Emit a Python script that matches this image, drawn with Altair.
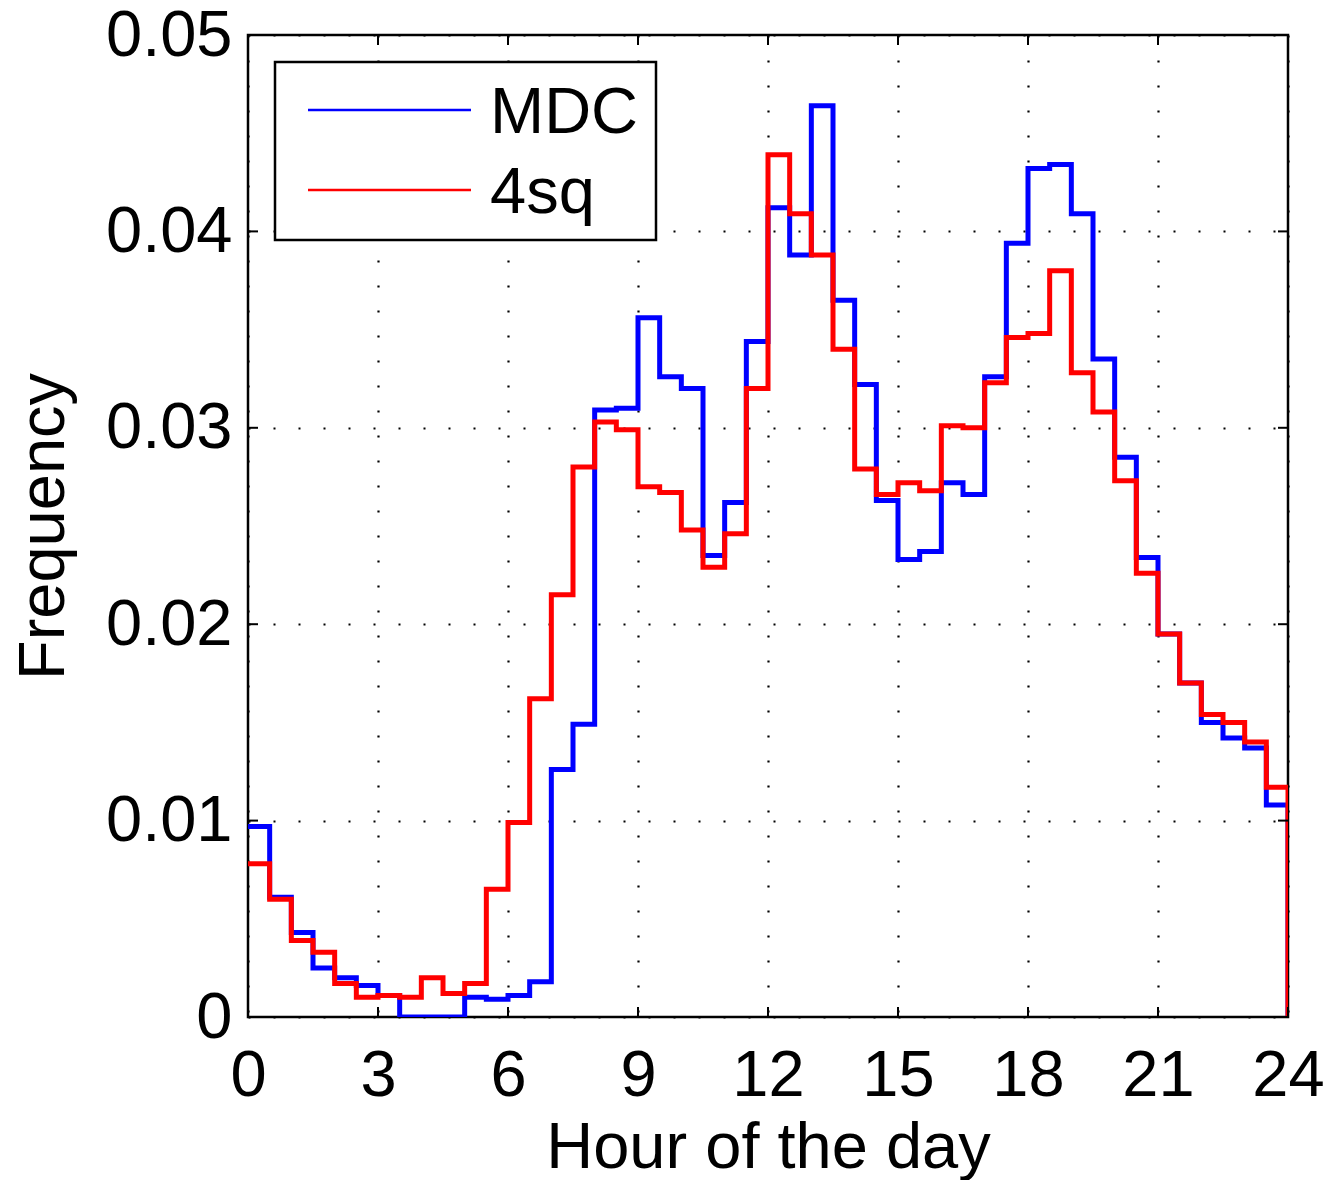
import altair as alt
import pandas as pd

# ---- data ----
SERIES = ["MDC", "4sq"]
COLORS = ["#0000ff", "#ff0000"]

BIN_START = [0.0, 0.5, 1.0, 1.5, 2.0, 2.5, 3.0, 3.5, 4.0, 4.5, 5.0, 5.5,
             6.0, 6.5, 7.0, 7.5, 8.0, 8.5, 9.0, 9.5, 10.0, 10.5, 11.0, 11.5,
             12.0, 12.5, 13.0, 13.5, 14.0, 14.5, 15.0, 15.5, 16.0, 16.5, 17.0, 17.5,
             18.0, 18.5, 19.0, 19.5, 20.0, 20.5, 21.0, 21.5, 22.0, 22.5, 23.0, 23.5]
END_HOUR = 24.0

MDC = [0.0097, 0.0061, 0.0043, 0.0025, 0.0020, 0.0016, 0.0011, 0.0, 0.0, 0.0, 0.0010, 0.0009,
       0.0011, 0.0018, 0.0126, 0.0149, 0.0309, 0.0310, 0.0356, 0.0326, 0.0320, 0.0235, 0.0262, 0.0344,
       0.0412, 0.0388, 0.0464, 0.0365, 0.0322, 0.0263, 0.0233, 0.0237, 0.0272, 0.0266, 0.0326, 0.0394,
       0.0432, 0.0434, 0.0409, 0.0335, 0.0285, 0.0234, 0.0195, 0.0170, 0.0150, 0.0142, 0.0137, 0.0108]

FOURSQ = [0.0078, 0.0060, 0.0039, 0.0033, 0.0017, 0.0010, 0.0011, 0.0010, 0.0020, 0.0012, 0.0017, 0.0065,
          0.0099, 0.0162, 0.0215, 0.0280, 0.0303, 0.0299, 0.0270, 0.0267, 0.0248, 0.0229, 0.0246, 0.0320,
          0.0439, 0.0409, 0.0388, 0.0340, 0.0279, 0.0266, 0.0272, 0.0268, 0.0301, 0.0300, 0.0323, 0.0346,
          0.0348, 0.0380, 0.0328, 0.0308, 0.0273, 0.0226, 0.0195, 0.0170, 0.0154, 0.0150, 0.0140, 0.0117]

XTICKS = [0, 3, 6, 9, 12, 15, 18, 21, 24]
YTICKS = [0, 0.01, 0.02, 0.03, 0.04, 0.05]

# ---- build table ----
rows = []
for name, vals in zip(SERIES, [MDC, FOURSQ]):
    idx = 0
    for h, v in zip(BIN_START, vals):
        rows.append({"series": name, "hour": h, "freq": v, "idx": idx}); idx += 1
    rows.append({"series": name, "hour": END_HOUR, "freq": vals[-1], "idx": idx}); idx += 1
    rows.append({"series": name, "hour": END_HOUR, "freq": 0.0, "idx": idx})
df = pd.DataFrame(rows)

W, H = 1040, 982
FONT = "Liberation Sans"
FS = 65

x_enc = alt.X("hour:Q",
              scale=alt.Scale(domain=[0, 24], nice=False, zero=False),
              axis=alt.Axis(values=XTICKS, format="d", title="Hour of the day",
                            grid=True, ticks=False, domain=False,
                            labelFlush=False, labelOverlap=False, labelBound=False,
                            labelPadding=27, titlePadding=8))
y_enc = alt.Y("freq:Q",
              scale=alt.Scale(domain=[0, 0.05], nice=False),
              axis=alt.Axis(values=YTICKS, title="Frequency",
                            labelExpr="datum.value == 0 ? '0' : format(datum.value, '.2f')",
                            grid=True, ticks=False, domain=False,
                            labelFlush=False, labelOverlap=False, labelBound=False,
                            labelPadding=16, titlePadding=28))
color_enc = alt.Color("series:N", scale=alt.Scale(domain=SERIES, range=COLORS), legend=None)

layers = []
for i, s in enumerate(SERIES):
    layers.append(
        alt.Chart(df).transform_filter(alt.datum.series == s)
        .mark_line(interpolate="step-after", strokeWidth=5, strokeJoin="miter", clip=True)
        .encode(x=x_enc, y=y_enc, color=color_enc, order="idx:Q")
    )

xt = pd.DataFrame({"hour": XTICKS})
yt = pd.DataFrame({"freq": YTICKS})
TL = 10
tick_bottom = alt.Chart(xt).mark_rule(color="black", strokeWidth=2).encode(
    x="hour:Q", y=alt.value(H), y2=alt.value(H - TL))
tick_top = alt.Chart(xt).mark_rule(color="black", strokeWidth=2).encode(
    x="hour:Q", y=alt.value(0), y2=alt.value(TL))
tick_left = alt.Chart(yt).mark_rule(color="black", strokeWidth=2).encode(
    y="freq:Q", x=alt.value(0), x2=alt.value(TL))
tick_right = alt.Chart(yt).mark_rule(color="black", strokeWidth=2).encode(
    y="freq:Q", x=alt.value(W), x2=alt.value(W - TL))
layers += [tick_bottom, tick_top, tick_left, tick_right]

# ---- legend box ----
box = alt.Chart(pd.DataFrame({"a": [0]})).mark_rect(
    fill="white", stroke="black", strokeWidth=2.5).encode(
    x=alt.value(27), x2=alt.value(408), y=alt.value(27), y2=alt.value(205))
layers.append(box)
leg_df = pd.DataFrame({"series": SERIES})
for i, s in enumerate(SERIES):
    sub = alt.Chart(leg_df).transform_filter(alt.datum.series == s)
    layers.append(sub.mark_rule(strokeWidth=2.5).encode(
        x=alt.value(60), x2=alt.value(223), y=alt.value(75 + 80 * i), color=color_enc))
    layers.append(sub.mark_text(align="left", baseline="alphabetic", fontSize=FS, font=FONT,
                                color="black").encode(
        x=alt.value(242), y=alt.value(98 + 80 * i), text="series:N"))

chart = alt.layer(*layers).properties(
    width=W, height=H,
    autosize=alt.AutoSizeParams(type="none"),
    padding={"left": 248, "top": 35, "right": 42, "bottom": 163},
).configure(font=FONT, background="white").configure_view(
    stroke="black", strokeWidth=2.5
).configure_axis(
    labelFontSize=FS, titleFontSize=FS, titleFontWeight="normal",
    labelColor="black", titleColor="black", labelFont=FONT, titleFont=FONT,
    gridColor="black", gridOpacity=1, gridWidth=2.2, gridDash=[2, 23]
)

chart.save("out.html", embed_options={"renderer": "svg", "actions": False})
